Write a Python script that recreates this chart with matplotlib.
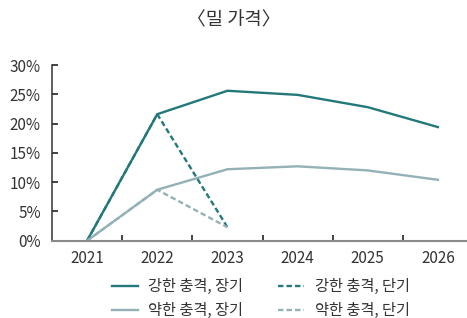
import numpy as np
import matplotlib
matplotlib.use("Agg")
import matplotlib.pyplot as plt
from matplotlib.ticker import FuncFormatter

plt.rcParams['font.family'] = ['Noto Sans CJK KR', 'DejaVu Sans']

years = ['2021', '2022', '2023', '2024', '2025', '2026']
strong_long = [0.0, 21.6, 25.6, 24.9, 22.8, 19.4]
strong_short = [0.0, 21.6, 2.3]
weak_long = [0.0, 8.7, 12.2, 12.7, 12.0, 10.4]
weak_short = [0.0, 8.7, 2.3]

c_strong = '#23797a'
c_weak = '#93b1b6'

fig = plt.figure(figsize=(4.67, 3.18), dpi=100)
ax = fig.add_axes([52/467, 1-240.7/318, 421/467, (240.7-65)/318])

x = np.arange(len(years))
ax.plot(x, strong_long, color=c_strong, lw=1.7, label='강한 충격, 장기')
ax.plot(x, weak_long, color=c_weak, lw=1.7, label='약한 충격, 장기')
ax.plot(x[:3], strong_short, color=c_strong, lw=1.7, ls=(0, (2.3, 1.3)), label='강한 충격, 단기')
ax.plot(x[:3], weak_short, color=c_weak, lw=1.7, ls=(0, (2.3, 1.3)), label='약한 충격, 단기')

ax.set_xlim(-0.5, 5.5)
ax.set_ylim(0, 30)
ax.set_yticks(np.arange(0, 31, 5))
ax.yaxis.set_major_formatter(FuncFormatter(lambda v, p: f'{v:.0f}%'))
# category labels on minor ticks, separator ticks between categories as major
ax.set_xticks(x[:-1] + 0.5)
ax.set_xticklabels([])
ax.set_xticks(x, minor=True)
ax.set_xticklabels(years, minor=True)

for s in ['top', 'right']:
    ax.spines[s].set_visible(False)
ax.spines['left'].set_color('#333333')
ax.spines['left'].set_linewidth(1.1)
ax.spines['bottom'].set_color('#8a8a8a')
ax.spines['bottom'].set_linewidth(1.5)

ax.tick_params(axis='y', direction='in', length=4, width=1.2, color='#222222',
               labelsize=11, labelcolor='#333333', pad=8)
ax.tick_params(axis='x', which='minor', length=0, labelsize=11, labelcolor='#333333', pad=7)
ax.tick_params(axis='x', which='major', direction='in', length=4.5, width=1.2, color='#222222')

fig.text(0.5, 1-20/318, '〈밀 가격〉', ha='center', va='center', fontsize=13.5, color='#333333')

ax.legend(loc='center', bbox_to_anchor=(0.496, -0.33), ncol=2,
          frameon=False, fontsize=11, handlelength=1.7, columnspacing=2.3,
          handletextpad=0.7, labelspacing=0.45, labelcolor='#333333')

fig.savefig('out.png', dpi=100)
